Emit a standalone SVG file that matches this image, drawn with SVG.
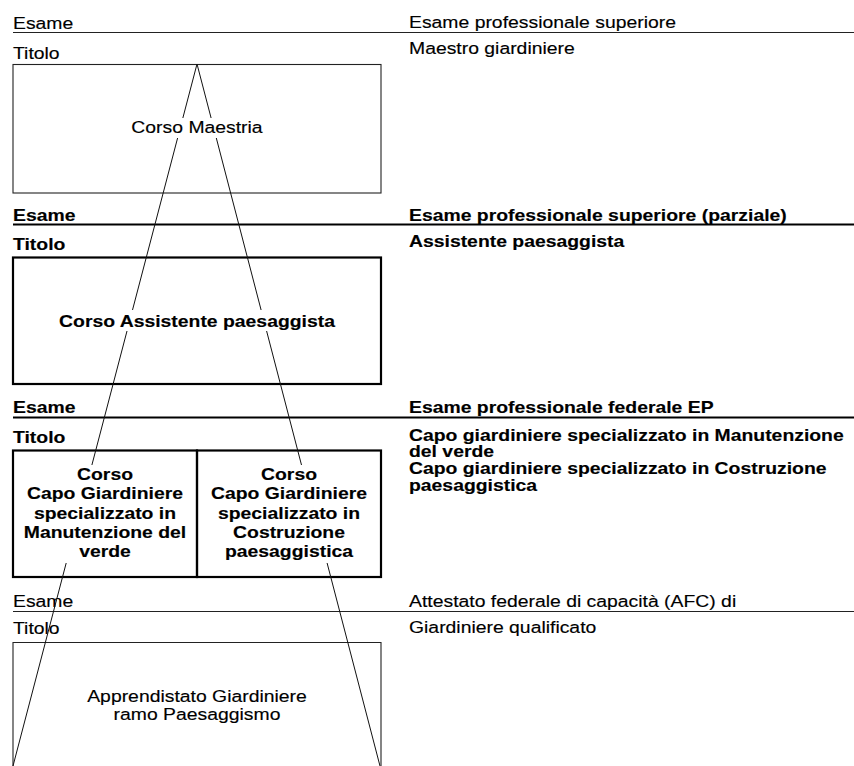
<svg xmlns="http://www.w3.org/2000/svg" width="854" height="766" viewBox="0 0 854 766">
<style>
text{font-family:"Liberation Sans",Arial,Helvetica,sans-serif;font-size:16.7px;fill:#000;stroke:#000;stroke-width:0.15px}
.b{font-weight:bold}
.m{text-anchor:middle}
.hl{stroke:#222;stroke-width:1.2;fill:none}
.hb{stroke:#000;stroke-width:2.2;fill:none}
.bx1{stroke:#222;stroke-width:1.1;fill:none}
.bx2{stroke:#000;stroke-width:2.2;fill:none}
.con{stroke:#111;stroke-width:1;fill:none}
</style>
<rect width="854" height="766" fill="#fff"/>

<g id="row-maestria">
  <text transform="translate(13 29) scale(1.16 1)">Esame</text>
  <line class="hl" x1="13" y1="32.5" x2="854" y2="32.5"/>
  <text transform="translate(13 59) scale(1.16 1)">Titolo</text>
  <text transform="translate(409 28) scale(1.16 1)">Esame professionale superiore</text>
  <text transform="translate(409 54) scale(1.16 1)">Maestro giardiniere</text>
</g>
<g id="corso-maestria">
  <rect class="bx1" x="13" y="64.5" width="368" height="128.5"/>
  <text class="m" transform="translate(197 133) scale(1.16 1)">Corso Maestria</text>
</g>

<g id="row-assistente">
  <text class="b" transform="translate(13 221) scale(1.16 1)">Esame</text>
  <line class="hb" x1="13" y1="224.5" x2="854" y2="224.5"/>
  <text class="b" transform="translate(13 250) scale(1.16 1)">Titolo</text>
  <text class="b" transform="translate(409 221) scale(1.16 1)">Esame professionale superiore (parziale)</text>
  <text class="b" transform="translate(409 247) scale(1.16 1)">Assistente paesaggista</text>
</g>
<g id="corso-assistente">
  <rect class="bx2" x="13" y="257.5" width="368" height="126.5"/>
  <text class="b m" transform="translate(197 327) scale(1.16 1)">Corso Assistente paesaggista</text>
</g>

<g id="row-capo">
  <text class="b" transform="translate(13 413) scale(1.16 1)">Esame</text>
  <line class="hb" x1="13" y1="417.5" x2="854" y2="417.5"/>
  <text class="b" transform="translate(13 443) scale(1.16 1)">Titolo</text>
  <text class="b" transform="translate(409 413) scale(1.16 1)">Esame professionale federale EP</text>
  <text class="b" transform="translate(409 440.5) scale(1.16 1)"><tspan x="0" y="0">Capo giardiniere specializzato in Manutenzione</tspan><tspan x="0" y="16.7">del verde</tspan><tspan x="0" y="33.4">Capo giardiniere specializzato in Costruzione</tspan><tspan x="0" y="50.1">paesaggistica</tspan></text>
</g>
<g id="corso-manutenzione">
  <rect class="bx2" x="13" y="450.5" width="184" height="126.5"/>
  <text class="b m" transform="translate(105 480) scale(1.16 1)"><tspan x="0" y="0">Corso</tspan><tspan x="0" y="19.3">Capo Giardiniere</tspan><tspan x="0" y="38.6">specializzato in</tspan><tspan x="0" y="57.9">Manutenzione del</tspan><tspan x="0" y="77.2">verde</tspan></text>
</g>
<g id="corso-costruzione">
  <rect class="bx2" x="197" y="450.5" width="184" height="126.5"/>
  <text class="b m" transform="translate(289 480) scale(1.16 1)"><tspan x="0" y="0">Corso</tspan><tspan x="0" y="19.3">Capo Giardiniere</tspan><tspan x="0" y="38.6">specializzato in</tspan><tspan x="0" y="57.9">Costruzione</tspan><tspan x="0" y="77.2">paesaggistica</tspan></text>
</g>

<g id="row-afc">
  <text transform="translate(13 607) scale(1.16 1)">Esame</text>
  <line class="hl" x1="13" y1="611.5" x2="854" y2="611.5"/>
  <text transform="translate(13 634) scale(1.16 1)">Titolo</text>
  <text transform="translate(409 607) scale(1.16 1)">Attestato federale di capacità (AFC) di</text>
  <text transform="translate(409 633) scale(1.16 1)">Giardiniere qualificato</text>
</g>
<g id="apprendistato">
  <path class="bx1" d="M13 766 V642.5 H381 V766"/>
  <text class="m" transform="translate(197 702) scale(1.16 1)"><tspan x="0" y="0">Apprendistato Giardiniere</tspan><tspan x="0" y="18">ramo Paesaggismo</tspan></text>
</g>

<g id="connectors">
  <path class="con" d="M197 64 L182.85 118 M177.6 138 L132.5 310 M127 331 L91.9 465 M66.2 563 L13 766"/>
  <path class="con" d="M197 64 L211.1 118 M216.3 138 L261.1 310 M266.6 331 L301.5 465 M327.1 563 L380 766"/>
</g>
</svg>
